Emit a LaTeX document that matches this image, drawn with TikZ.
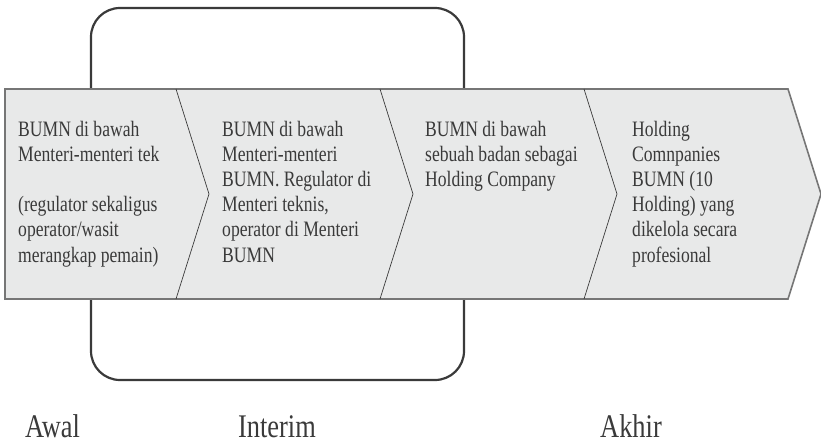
\documentclass[tikz,border=0pt]{standalone}
\usepackage{fontspec}
\setmainfont{Liberation Serif}[FakeStretch=0.8]
\usepackage{tikz}
\usetikzlibrary{calc}
\definecolor{bandfill}{HTML}{E8E9E9}
\definecolor{bandline}{HTML}{767676}
\definecolor{inkgray}{HTML}{3A3A3A}
\colorlet{txtgray}{inkgray}
\tikzstyle{band}=[fill=bandfill,draw=bandline,line width=1.6pt,line join=miter]
\tikzstyle{divider}=[draw=inkgray,line width=.7pt]
\tikzstyle{bracket}=[draw=inkgray,line width=2.2pt,rounded corners=29pt]
\tikzstyle{stagetext}=[anchor=base west,inner sep=0pt,align=left,text=txtgray,font=\fontsize{22}{25.2}\selectfont]
\tikzstyle{phase}=[inner sep=0pt,text=txtgray,font=\fontsize{33}{36}\selectfont]
\newcommand\blankrow{\\[25.2pt]}
\begin{document}
\begin{tikzpicture}[x=1pt,y=-1pt]
	\useasboundingbox (0,0) rectangle (821,444);
	% bracket over the interim stages, band drawn above it
	\draw[bracket] (91,8) rectangle (464,380);
	\draw[band] (5,89) -- (788,89) -- (821,194) -- (788,299) -- (5,299) -- cycle;
	\foreach \x in {176,380,584}
	  \draw[divider] (\x,89) -- (\x+33,194) -- (\x,299);
	% stage texts (placed at the baseline of their last line)
	\node[stagetext] (awal-txt) at (18,262) {BUMN di bawah\\Menteri-menteri tek\blankrow(regulator sekaligus\\operator/wasit\\merangkap pemain)};
	\node[stagetext] (interim-a) at (222,262) {BUMN di bawah\\Menteri-menteri\\BUMN. Regulator di\\Menteri teknis,\\operator di Menteri\\BUMN};
	\node[stagetext] (interim-b) at (425,186.4) {BUMN di bawah\\sebuah badan sebagai\\Holding Company};
	\node[stagetext] (akhir-txt) at (632,262) {Holding\\Comnpanies\\BUMN (10\\Holding) yang\\dikelola secara\\profesional};
	% phase labels
	\node[phase,anchor=base west] (awal) at (25,437) {Awal};
	\node[phase,anchor=base] (interim) at (277,437) {Interim};
	\node[phase,anchor=base west] (akhir) at (600,437) {Akhir};
\end{tikzpicture}
\end{document}
